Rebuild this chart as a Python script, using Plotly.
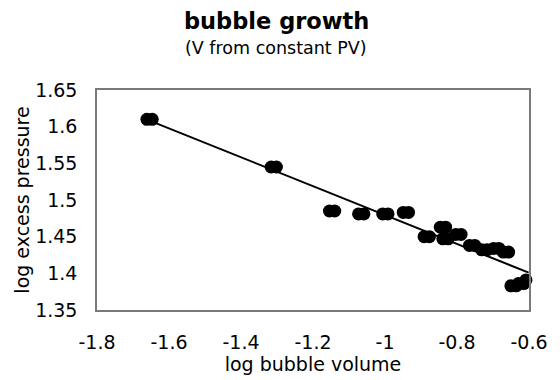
import numpy as np
import plotly.graph_objects as go

# ---- data ----
log_volume = [-1.654, -1.309, -1.147, -1.066, -0.999, -0.942, -0.884, -0.839, -0.832,
              -0.796, -0.758, -0.724, -0.691, -0.664, -0.643, -0.622, -0.601]
log_pressure = [1.610, 1.545, 1.485, 1.481, 1.481, 1.483, 1.450, 1.463, 1.447,
                1.453, 1.438, 1.432, 1.434, 1.429, 1.383, 1.386, 1.391]

x_tickvals = [-1.8, -1.6, -1.4, -1.2, -1.0, -0.8, -0.6]
x_ticktext = ["-1.8", "-1.6", "-1.4", "-1.2", "-1", "-0.8", "-0.6"]
y_tickvals = [1.35, 1.40, 1.45, 1.50, 1.55, 1.60, 1.65]
y_ticktext = ["1.35", "1.4", "1.45", "1.5", "1.55", "1.6", "1.65"]

title_text = "bubble growth"
subtitle_text = "(V from constant PV)"
x_title = "log bubble volume"
y_title = "log excess pressure"

# ---- styling ----
FONT = "DejaVu Sans"
STRETCH = 0.0074  # horizontal half-stretch of the oval markers (data units)

xv = np.array(log_volume)
yv = np.array(log_pressure)

# linear trend line (least squares) over the data range
slope, intercept = np.polyfit(xv, yv, 1)
tx = np.array([xv.min(), xv.max()])
ty = slope * tx + intercept

fig = go.Figure()
fig.add_trace(go.Scatter(x=tx, y=ty, mode="lines",
                         line=dict(color="black", width=2), hoverinfo="skip",
                         showlegend=False))
for sgn in (-1, 1):
    fig.add_trace(go.Scatter(x=xv + sgn * STRETCH, y=yv, mode="markers",
                             marker=dict(color="black", size=13, line=dict(width=0)),
                             showlegend=False, cliponaxis=False))

# the page body adds an 8px margin, so the figure is 8px smaller than the window
fig.update_layout(
    width=552, height=372,
    margin=dict(l=89, r=18, t=82, b=69),
    paper_bgcolor="white", plot_bgcolor="white",
    font=dict(family=FONT, color="black", size=19),
    showlegend=False,
    annotations=[
        dict(text="<b>" + title_text + "</b>", xref="paper", yref="paper",
             x=0.416, y=1 + (90 - 21) / 221, xanchor="center", yanchor="middle",
             showarrow=False, font=dict(family=FONT, size=22.5, color="black")),
        dict(text=subtitle_text, xref="paper", yref="paper",
             x=0.414, y=1 + (90 - 48) / 221, xanchor="center", yanchor="middle",
             showarrow=False, font=dict(family=FONT, size=17.5, color="black")),
    ],
)

fig.update_xaxes(
    range=[-1.8, -0.6], tickvals=x_tickvals, ticktext=x_ticktext,
    showgrid=False, zeroline=False,
    showline=True, mirror=True, linecolor="#7a7a7a", linewidth=1.5,
    ticks="outside", ticklen=14, tickcolor="rgba(0,0,0,0)",
    ticklabeloverflow="allow",
    title=dict(text=x_title, standoff=2, font=dict(size=19)),
    tickfont=dict(size=19),
)
fig.update_yaxes(
    range=[1.35, 1.65], tickvals=y_tickvals, ticktext=y_ticktext,
    showgrid=False, zeroline=False,
    showline=True, mirror=True, linecolor="#7a7a7a", linewidth=1.5,
    ticks="outside", ticklen=14, tickcolor="rgba(0,0,0,0)",
    title=dict(text=y_title, standoff=0, font=dict(size=19)),
    tickfont=dict(size=19),
)

fig.write_html("out.html")
